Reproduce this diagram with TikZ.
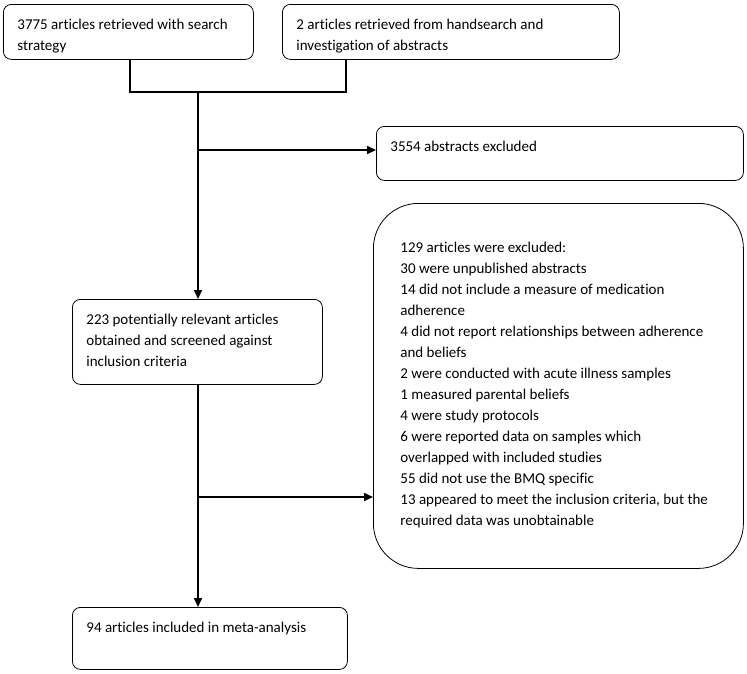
\documentclass[tikz,border=0pt]{standalone}
\usepackage{fontspec}
\setmainfont{Carlito}[Ligatures={NoCommon}]
\usepackage{tikz}
\usetikzlibrary{arrows.meta,positioning}

\newcommand{\flowtext}[3]{\parbox[t][#2][t]{#1}{\raggedright\strut #3}}

\begin{document}
\begin{tikzpicture}[x=1pt,y=-1pt,
  line width=1.6pt,
  font=\fontsize{15}{21}\selectfont,
  flow/.style={draw,line width=0.8pt,rounded corners=8pt,anchor=north west,
    inner xsep=14pt,inner ysep=10pt,align=left},
  bigflow/.style={flow,rounded corners=45pt,inner xsep=27pt,inner ysep=34pt},
  arr/.style={-{Triangle[length=9pt,width=8pt]}}]

  \useasboundingbox (0,0) rectangle (747,673);

  \node[flow] (search) at (3,4)
    {\flowtext{222pt}{35pt}{3775 articles retrieved with search\\strategy}};
  \node[flow] (hand) at (282,4)
    {\flowtext{309pt}{35pt}{2 articles retrieved from handsearch and\\investigation of abstracts}};
  \node[flow] (abstracts) at (376,126)
    {\flowtext{339pt}{34pt}{3554 abstracts excluded}};
  \node[flow] (screen) at (72,299)
    {\flowtext{222pt}{65pt}{223 potentially relevant articles\\obtained and screened against\\inclusion criteria}};
  \node[bigflow] (excluded) at (373,203)
    {\flowtext{316pt}{297pt}{129 articles were excluded:\\
      30 were unpublished abstracts\\
      14 did not include a measure of medication\\adherence\\
      4 did not report relationships between adherence\\and beliefs\\
      2 were conducted with acute illness samples\\
      1 measured parental beliefs\\
      4 were study protocols\\
      6 were reported data on samples which\\overlapped with included studies\\
      55 did not use the BMQ specific\\
      13 appeared to meet the inclusion criteria, but the\\required data was unobtainable}};
  \node[flow] (meta) at (72,607)
    {\flowtext{247pt}{42pt}{94 articles included in meta-analysis}};

  % joins and branch points
  \coordinate (jl) at (130,92);
  \coordinate (jr) at (346,92);
  \coordinate (jm) at (198,92);
  \coordinate (b1) at (198,150);
  \coordinate (b2) at (198,497);

  \draw (search.south -| jl) -- (jl) -- (jr) -- (hand.south -| jr);
  \draw[arr] (jm) -- (screen.north -| jm);
  \draw[arr] (b1) -- (abstracts.west |- b1);
  \draw[arr] (screen.south -| jm) -- (meta.north -| jm);
  \draw[arr] (b2) -- (excluded.west |- b2);

\end{tikzpicture}
\end{document}
